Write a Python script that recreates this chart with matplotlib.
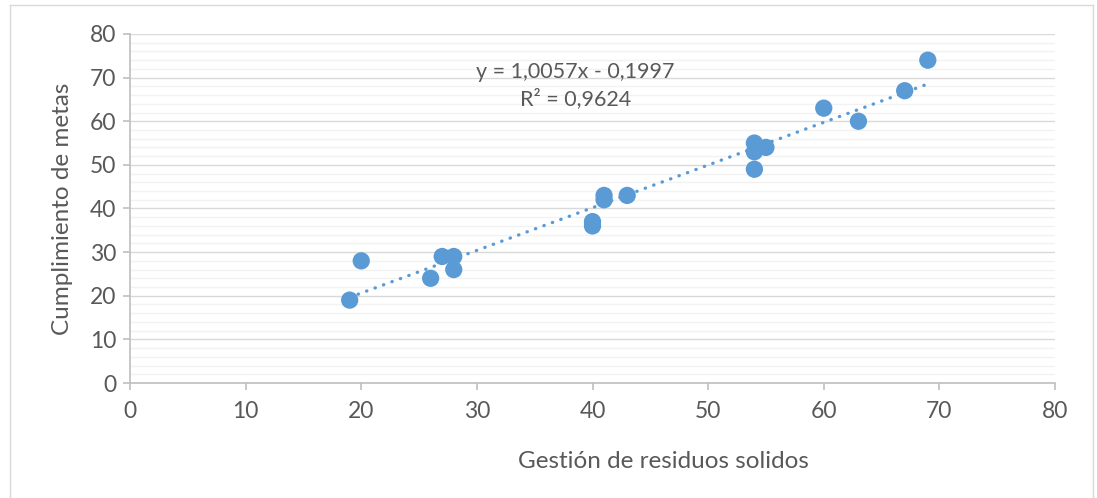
import numpy as np
import matplotlib
matplotlib.use("Agg")
import matplotlib.pyplot as plt
from matplotlib.lines import Line2D

# Data
gestion = [19, 20, 26, 27, 28, 28, 40, 40, 41, 41, 43, 54, 54, 54, 55, 60, 63, 67, 69]
cumplimiento = [19, 28, 24, 29, 29, 26, 37, 36, 43, 42, 43, 55, 53, 49, 54, 63, 60, 67, 74]
x_ticks = [0, 10, 20, 30, 40, 50, 60, 70, 80]
y_ticks = [0, 10, 20, 30, 40, 50, 60, 70, 80]
eq_text = "y = 1,0057x - 0,1997"
r2_text = "R² = 0,9624"
x_label = "Gestión de residuos solidos"
y_label = "Cumplimiento de metas"

blue = "#5b9bd5"
txt = "#595959"
plt.rcParams['font.family'] = ['Lato', 'DejaVu Sans']

fig = plt.figure(figsize=(10.97, 4.98), dpi=100)
ax = fig.add_axes([130/1097, 1-383/498, (1055-130)/1097, (383-34)/498])

# outer chart frame
fc = "#d9d9d9"
fig.add_artist(Line2D([10/1097, 10/1097], [0, 1-5/498], transform=fig.transFigure, color=fc, lw=1))
fig.add_artist(Line2D([10/1097, 1093/1097], [1-5/498, 1-5/498], transform=fig.transFigure, color=fc, lw=1))
fig.add_artist(Line2D([1093/1097, 1093/1097], [0, 1-5/498], transform=fig.transFigure, color=fc, lw=1))

ax.set_xlim(0, 80)
ax.set_ylim(0, 80)
ax.set_xticks(x_ticks)
ax.set_yticks(y_ticks)
ax.set_yticks(np.arange(0, 81, 2), minor=True)
ax.grid(which='minor', axis='y', color="#f2f2f2", lw=1)
ax.grid(which='major', axis='y', color="#d9d9d9", lw=1)
ax.set_axisbelow(True)

for s in ['top', 'right']:
    ax.spines[s].set_visible(False)
for s in ['left', 'bottom']:
    ax.spines[s].set_color("#bfbfbf")
    ax.spines[s].set_linewidth(1.2)
ax.tick_params(which='major', axis='both', colors="#bfbfbf", labelcolor=txt, labelsize=16.5, length=5, width=1.2)
ax.tick_params(which='minor', axis='y', length=0)
ax.tick_params(axis='x', pad=8)
ax.tick_params(axis='y', pad=5)

# trendline
coef = np.polyfit(gestion, cumplimiento, 1)
xs = np.array([min(gestion), max(gestion)])
ax.plot(xs, np.polyval(coef, xs), color=blue, lw=2.4, linestyle=(0, (0.1, 2.6)),
        dash_capstyle='round', zorder=2)

ax.scatter(gestion, cumplimiento, s=155, color=blue, edgecolors='none', zorder=3)

ax.text(38.5, 71.3, eq_text, ha='center', va='center', fontsize=15.5, color=txt)
ax.text(38.5, 65.1, r2_text, ha='center', va='center', fontsize=15.5, color=txt)

ax.set_xlabel(x_label, fontsize=17.5, color=txt, labelpad=18)
ax.xaxis.set_label_coords((663-130)/925, -0.195)
ax.set_ylabel(y_label, fontsize=17.5, color=txt, labelpad=12)

fig.savefig("out.png", dpi=100)
